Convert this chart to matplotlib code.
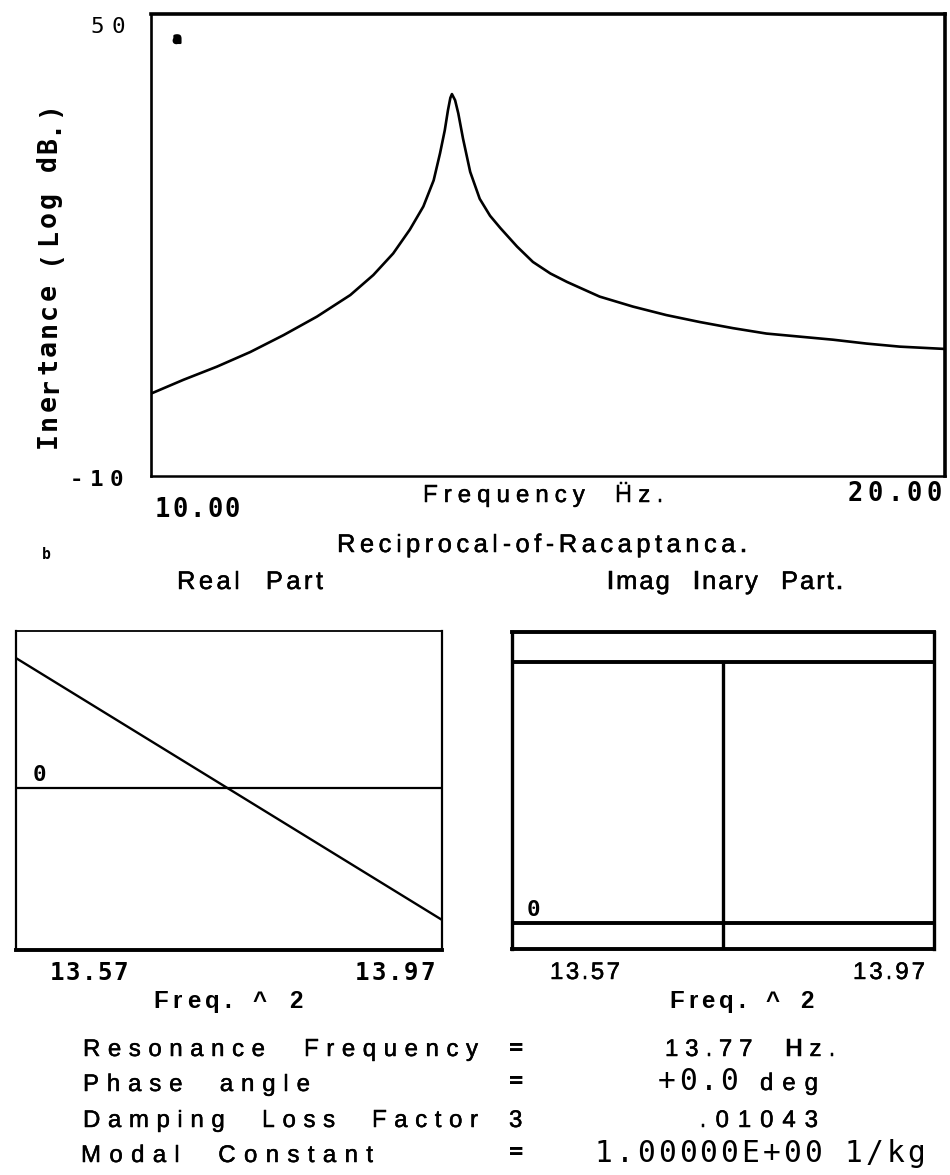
import matplotlib
matplotlib.use("Agg")
import matplotlib.pyplot as plt
import matplotlib.patheffects as pe
from matplotlib.font_manager import FontProperties
from matplotlib.textpath import TextToPath
from matplotlib.transforms import Affine2D

W, H, DPI = 950, 1175, 100

# inertance trace, frequency (Hz) vs level (dB)
freq_hz = [10.00, 10.41, 10.83, 11.25, 11.67, 12.09, 12.51, 12.80, 13.05, 13.26,
           13.43, 13.56, 13.64, 13.70, 13.74, 13.77, 13.79, 13.83, 13.87, 13.93,
           14.02, 14.14, 14.27, 14.40, 14.61, 14.81, 15.03, 15.24, 15.65, 16.07,
           16.49, 16.91, 17.33, 17.75, 18.17, 18.59, 19.01, 19.43, 20.00]
inertance_db = [0.7, 2.5, 4.2, 6.1, 8.3, 10.7, 13.5, 16.1, 18.9, 22.0,
                25.0, 28.4, 31.9, 34.9, 37.5, 39.1, 39.6, 38.8, 37.1, 33.8,
                29.5, 26.0, 23.8, 22.2, 19.8, 17.8, 16.3, 15.2, 13.3, 12.0,
                10.9, 10.0, 9.2, 8.5, 8.1, 7.7, 7.2, 6.8, 6.5]

# reciprocal of receptance over the zoomed band
band_hz = [13.57, 13.97]
real_part = [216.0, -219.0]
imag_part = [78.1, 78.1]
res_freq = 13.77

top_range = ['10.00', '20.00']
band_range = ['13.57', '13.97']
db_range = ['50', '-10']

MONO = ['DejaVu Sans Mono']
SANS = ['Liberation Sans', 'DejaVu Sans']

fig = plt.figure(figsize=(W / DPI, H / DPI), dpi=DPI)
# pixel coords, origin top-left
px = Affine2D().scale(1.0 / W, -1.0 / H).translate(0, 1) + fig.transFigure
t2p = TextToPath()


def spread(s, a, b, base, size, family, weight='normal', rot=0, word=0.75, ink=0.0):
    """lay out s letter by letter so its ink fills a..b (plotter style tracking)"""
    prop = FontProperties(family=family, size=size, weight=weight)
    em = size * DPI / 72.0
    ws = []
    for c in s:
        if c == ' ':
            ws.append(word * em)
        else:
            ws.append(t2p.get_text_width_height_descent(c, prop, ismath=False)[0] * DPI / 72.0)
    gap = (abs(b - a) - sum(ws)) / max(len(s) - 1, 1)
    fx = [pe.withStroke(linewidth=ink, foreground='black')] if ink else None
    pos = 0.0
    for c, w in zip(s, ws):
        if c != ' ':
            xy = (base, a - pos) if rot else (a + pos, base)
            fig.text(xy[0], xy[1], c, transform=px, fontproperties=prop,
                     ha='left', va='baseline', rotation=rot, rotation_mode='anchor',
                     path_effects=fx)
        pos += w + gap


def pt(cap_px, ratio=0.72):
    return 1.08 * cap_px / ratio * 72.0 / DPI


def panel(l, t, r, b, widths):
    ax = fig.add_axes([l / W, 1 - b / H, (r - l) / W, (b - t) / H])
    ax.set_xticks([])
    ax.set_yticks([])
    for side, lw in zip(['top', 'right', 'bottom', 'left'], widths):
        ax.spines[side].set_linewidth(lw)
        ax.spines[side].set_color('black')
    return ax


SK = 0.35  # thicken the thin sans strokes a little

# --- inertance plot ---
ax = panel(151, 14, 945, 476, [2.6, 2.6, 1.8, 1.9])
ax.plot(freq_hz, inertance_db, color='black', lw=1.9,
        solid_joinstyle='round', solid_capstyle='round')
ax.set_xlim(10, 20)
ax.set_ylim(-10, 50)

spread(db_range[0], 90, 125, 25 + 8, pt(15), MONO)
spread(db_range[1], 70, 123, 478 + 8, pt(15), MONO, 'bold')
spread(top_range[0], 155, 240, 508 + 9, pt(17), MONO, 'bold')
spread(top_range[1], 848, 942, 492 + 9, pt(17), MONO, 'bold')
spread('Frequency \u1e26z.', 423, 663, 494 + 8, pt(16), SANS, ink=SK)
spread('Inertance (Log dB.)', 448, 100, 56, pt(18, 0.73), MONO, 'bold', rot=90, word=0.6)
fig.text(173, 43, 'a', transform=px, family=MONO, weight='bold', fontsize=10,
         ha='left', va='baseline',
         path_effects=[pe.withStroke(linewidth=1.5, foreground='black')])

# --- reciprocal of receptance headings ---
fig.text(42, 559, 'b', transform=px, family=MONO, weight='bold', fontsize=10.5,
         ha='left', va='baseline')
spread('Reciprocal-of-Racaptanca.', 337, 747, 543 + 9, pt(17), SANS, ink=SK)
spread('Real Part', 177, 323, 580 + 9, pt(17), SANS, ink=SK)
spread('Imag Inary Part.', 607, 843, 580 + 9, pt(17), SANS, ink=SK)

# real part
axr = panel(16, 631, 442, 950, [1.3, 1.6, 2.8, 1.6])
axr.plot(band_hz, real_part, color='black', lw=1.7)
axr.axhline(0, color='black', lw=1.6)
axr.set_xlim(band_hz)
axr.set_ylim(-269, 261)
spread('0', 33, 47, 773 + 8, pt(15), MONO, 'bold')
spread(band_range[0], 50, 128, 972 + 8, pt(16), MONO, 'bold')
spread(band_range[1], 355, 435, 972 + 8, pt(16), MONO, 'bold')
spread('Freq. ^ 2', 153, 302, 1000 + 8, pt(16), SANS, 'bold', word=0.5)

# imaginary part
axi = panel(512, 632, 934, 949, [2.8, 2.4, 2.8, 2.4])
axi.plot(band_hz, imag_part, color='black', lw=2.8)
axi.axhline(0, color='black', lw=2.8)
axi.set_xlim(band_hz)
axi.set_ylim(-7.8, 87.1)
axi.vlines(res_freq, -7.8, imag_part[0], color='black', lw=2.4)
spread('0', 527, 541, 908 + 8, pt(15), MONO, 'bold')
spread(band_range[0], 550, 620, 971 + 8, pt(16), SANS, ink=SK)
spread(band_range[1], 853, 925, 971 + 8, pt(16), SANS, ink=SK)
spread('Freq. ^ 2', 669, 813, 1000 + 8, pt(16), SANS, 'bold', word=0.5)

# --- modal results ---
spread('Resonance Frequency', 83, 478, 1048 + 8, pt(16), SANS, ink=SK, word=1.0)
spread('Phase angle', 83, 310, 1083 + 8, pt(16), SANS, ink=SK, word=0.9)
spread('Damping Loss Factor', 83, 478, 1119 + 8, pt(16), SANS, ink=SK, word=0.9)
spread('Modal Constant', 81, 373, 1154 + 8, pt(16), SANS, ink=SK, word=0.9)

spread('=', 509, 525, 1055, pt(16), MONO, 'bold')
spread('=', 509, 525, 1088, pt(16), MONO, 'bold')
spread('3', 509, 523, 1127, pt(16), SANS, ink=SK)
spread('=', 509, 525, 1159, pt(16), MONO, 'bold')

spread('13.77 Hz.', 665, 835, 1048 + 8, pt(16), SANS, ink=SK, word=0.8)
spread('+0.0', 658, 738, 1080 + 10, pt(20, 0.73), MONO)
spread('deg', 760, 818, 1090, pt(16), SANS, ink=SK)
spread('.01043', 700, 818, 1119 + 8, pt(16), SANS, ink=SK)
spread('1.00000E+00 1/kg', 595, 925, 1152 + 10, pt(20, 0.73), MONO, word=0.55)

fig.savefig('out.png', dpi=DPI, facecolor='white')
